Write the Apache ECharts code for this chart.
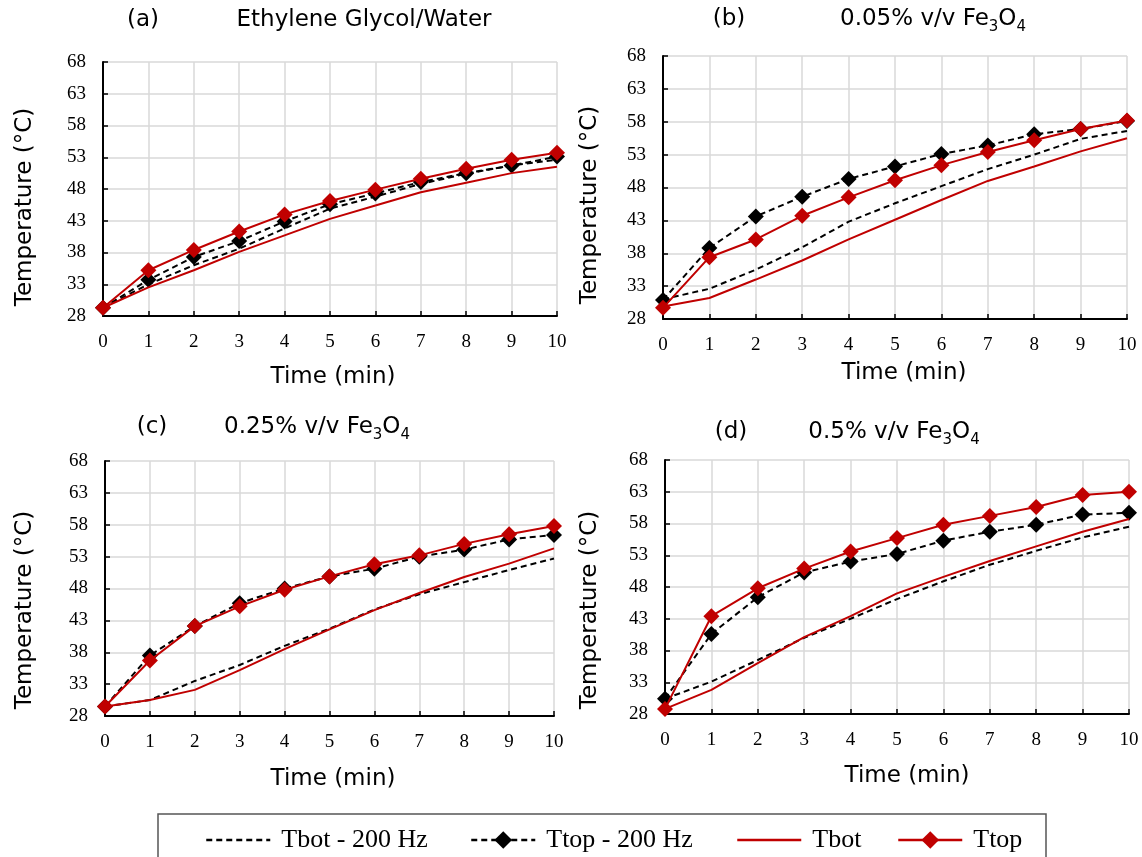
<!DOCTYPE html>
<html>
<head>
<meta charset="utf-8">
<script src="https://cdn.jsdelivr.net/npm/echarts@6/dist/echarts.min.js"></script>
<style>
html,body{margin:0;padding:0;background:#fff;}
#chart{width:1142px;height:857px;}
</style>
</head>
<body>
<div id="chart"></div>
<script>
// Time axis (min)
const times = [0,1,2,3,4,5,6,7,8,9,10];
const yTicks = [28,33,38,43,48,53,58,63,68];
const seriesNames = ['Tbot - 200 Hz','Ttop - 200 Hz','Tbot','Ttop'];

// (a) Ethylene Glycol/Water
const a_tbot200 = [29.3,33.0,36.0,38.6,41.8,44.9,46.8,48.8,50.4,51.7,52.6];
const a_ttop200 = [29.3,33.7,37.3,39.8,42.9,45.6,47.3,49.1,50.5,51.7,53.1];
const a_tbot    = [29.3,32.5,35.2,38.1,40.7,43.3,45.4,47.5,49.0,50.5,51.5];
const a_ttop    = [29.3,35.2,38.4,41.3,44.0,46.1,47.9,49.6,51.2,52.6,53.7];

// (b) 0.05% v/v Fe3O4
const b_tbot200 = [31.0,32.6,35.5,38.9,42.8,45.6,48.2,50.8,53.0,55.4,56.6];
const b_ttop200 = [30.9,38.8,43.6,46.6,49.3,51.2,53.1,54.4,56.1,56.9,58.1];
const b_tbot    = [29.9,31.2,34.0,36.9,40.1,43.1,46.1,49.0,51.2,53.5,55.5];
const b_ttop    = [29.7,37.4,40.1,43.7,46.5,49.1,51.4,53.4,55.2,56.9,58.2];

// (c) 0.25% v/v Fe3O4
const c_tbot200 = [29.5,30.5,33.5,36.0,39.0,41.7,44.7,47.1,49.0,50.9,52.7];
const c_ttop200 = [29.5,37.5,42.1,45.7,48.0,49.9,51.1,53.0,54.1,55.7,56.4];
const c_tbot    = [29.5,30.5,32.1,35.2,38.5,41.6,44.6,47.3,49.8,51.9,54.3];
const c_ttop    = [29.5,36.7,42.1,45.2,47.8,49.9,51.8,53.2,55.0,56.5,57.8];

// (d) 0.5% v/v Fe3O4
const d_tbot200 = [30.4,33.1,36.5,40.0,43.0,46.1,48.9,51.5,53.7,55.8,57.5];
const d_ttop200 = [30.4,40.6,46.4,50.3,52.0,53.2,55.3,56.7,57.8,59.4,59.7];
const d_tbot    = [28.8,31.8,36.0,40.1,43.4,47.0,49.6,52.1,54.4,56.7,58.7];
const d_ttop    = [28.8,43.4,47.8,50.9,53.6,55.7,57.8,59.2,60.6,62.5,63.0];

const panels = [
  {data:[a_tbot200,a_ttop200,a_tbot,a_ttop], grid:{left:103,top:62,width:454,height:254}},
  {data:[b_tbot200,b_ttop200,b_tbot,b_ttop], grid:{left:663,top:56,width:464,height:263}},
  {data:[c_tbot200,c_ttop200,c_tbot,c_ttop], grid:{left:105,top:461,width:449,height:255}},
  {data:[d_tbot200,d_ttop200,d_tbot,d_ttop], grid:{left:665,top:460,width:464,height:254}}
];

const RED = '#c00000';
const serifFont = 'Liberation Serif';
const sansFont = 'DejaVu Sans';

const grids = [], xAxes = [], yAxes = [], series = [];
panels.forEach((p, i) => {
  grids.push(Object.assign({containLabel:false}, p.grid));
  xAxes.push({
    type:'value', gridIndex:i, min:times[0], max:times[times.length-1], interval:1,
    axisLine:{show:true, onZero:false, lineStyle:{color:'#000', width:2}},
    axisTick:{show:true, inside:true, length:5, lineStyle:{color:'#000', width:1.5}},
    axisLabel:{color:'#000', fontFamily:serifFont, fontSize:19, margin:17},
    splitLine:{show:true, lineStyle:{color:'#d9d9d9', width:1.5}}
  });
  yAxes.push({
    type:'value', gridIndex:i, min:yTicks[0], max:yTicks[yTicks.length-1], interval:yTicks[1]-yTicks[0],
    axisLine:{show:true, onZero:false, lineStyle:{color:'#000', width:2}},
    axisTick:{show:true, inside:true, length:5, lineStyle:{color:'#000', width:1.5}},
    axisLabel:{color:'#000', fontFamily:serifFont, fontSize:19, margin:17},
    splitLine:{show:true, lineStyle:{color:'#d9d9d9', width:1.5}}
  });
  const pairs = (arr) => times.map((t, k) => [t, arr[k]]);
  series.push({
    name:seriesNames[0], type:'line', xAxisIndex:i, yAxisIndex:i, data:pairs(p.data[0]),
    symbol:'none', lineStyle:{color:'#000', width:2, type:[6,4]}, itemStyle:{color:'#000'},
    animation:false, z:2
  });
  series.push({
    name:seriesNames[1], type:'line', xAxisIndex:i, yAxisIndex:i, data:pairs(p.data[1]),
    symbol:'diamond', symbolSize:16, showAllSymbol:true,
    lineStyle:{color:'#000', width:2, type:[6,4]}, itemStyle:{color:'#000'},
    animation:false, z:3
  });
  series.push({
    name:seriesNames[2], type:'line', xAxisIndex:i, yAxisIndex:i, data:pairs(p.data[2]),
    symbol:'none', lineStyle:{color:RED, width:2}, itemStyle:{color:RED},
    animation:false, z:4
  });
  series.push({
    name:seriesNames[3], type:'line', xAxisIndex:i, yAxisIndex:i, data:pairs(p.data[3]),
    symbol:'diamond', symbolSize:16, showAllSymbol:true,
    lineStyle:{color:RED, width:2}, itemStyle:{color:RED},
    animation:false, z:5
  });
});

const legendLefts = [200, 465, 731, 892];
const legends = seriesNames.map((n, k) => {
  const noSymbol = (k === 0 || k === 2);
  const item = {name:n};
  if (noSymbol) item.itemStyle = {color:'rgba(0,0,0,0)', borderWidth:0, opacity:0};
  return {
    data:[item], left:legendLefts[k], top:822, orient:'horizontal',
    itemWidth:64, itemHeight:22, selectedMode:false,
    lineStyle:{width:2.5},
    textStyle:{color:'#000', fontFamily:'Liberation Serif', fontSize:26, padding:[0,0,0,6]}
  };
});

function txt(x, y, text, rot) {
  return {
    type:'text', x:x, y:y, rotation:rot||0, silent:true,
    style:{
      text:text, fill:'#000', font:'23px "' + sansFont + '"',
      align:'center', verticalAlign:'middle',
      rich:{
        n:{fontFamily:sansFont, fontSize:23, lineHeight:32, verticalAlign:'middle'},
        s:{fontFamily:sansFont, fontSize:15, lineHeight:15, verticalAlign:'bottom', padding:[15,0,0,0]}
      }
    }
  };
}
const R = Math.PI/2;
const graphics = [
  txt(143, 20, '(a)'),
  txt(364, 20, 'Ethylene Glycol/Water'),
  txt(729, 19, '(b)'),
  txt(933, 19, '{n|0.05% v/v Fe}{s|3}{n|O}{s|4}'),
  txt(152, 427, '(c)'),
  txt(317, 427, '{n|0.25% v/v Fe}{s|3}{n|O}{s|4}'),
  txt(731, 432, '(d)'),
  txt(894, 432, '{n|0.5% v/v Fe}{s|3}{n|O}{s|4}'),
  txt(25, 207, 'Temperature (°C)', R),
  txt(590, 205, 'Temperature (°C)', R),
  txt(25, 610, 'Temperature (°C)', R),
  txt(590, 610, 'Temperature (°C)', R),
  txt(333, 377, 'Time (min)'),
  txt(904, 373, 'Time (min)'),
  txt(333, 779, 'Time (min)'),
  txt(907, 776, 'Time (min)'),
  {type:'rect', silent:true, shape:{x:158, y:814, width:888, height:60},
   style:{fill:'none', stroke:'#555', lineWidth:1.5}}
];

const chart = echarts.init(document.getElementById('chart'), null, {renderer:'canvas'});
chart.setOption({
  backgroundColor:'#fff',
  animation:false,
  grid:grids, xAxis:xAxes, yAxis:yAxes, series:series,
  legend:legends,
  graphic:graphics
});
</script>
</body>
</html>
